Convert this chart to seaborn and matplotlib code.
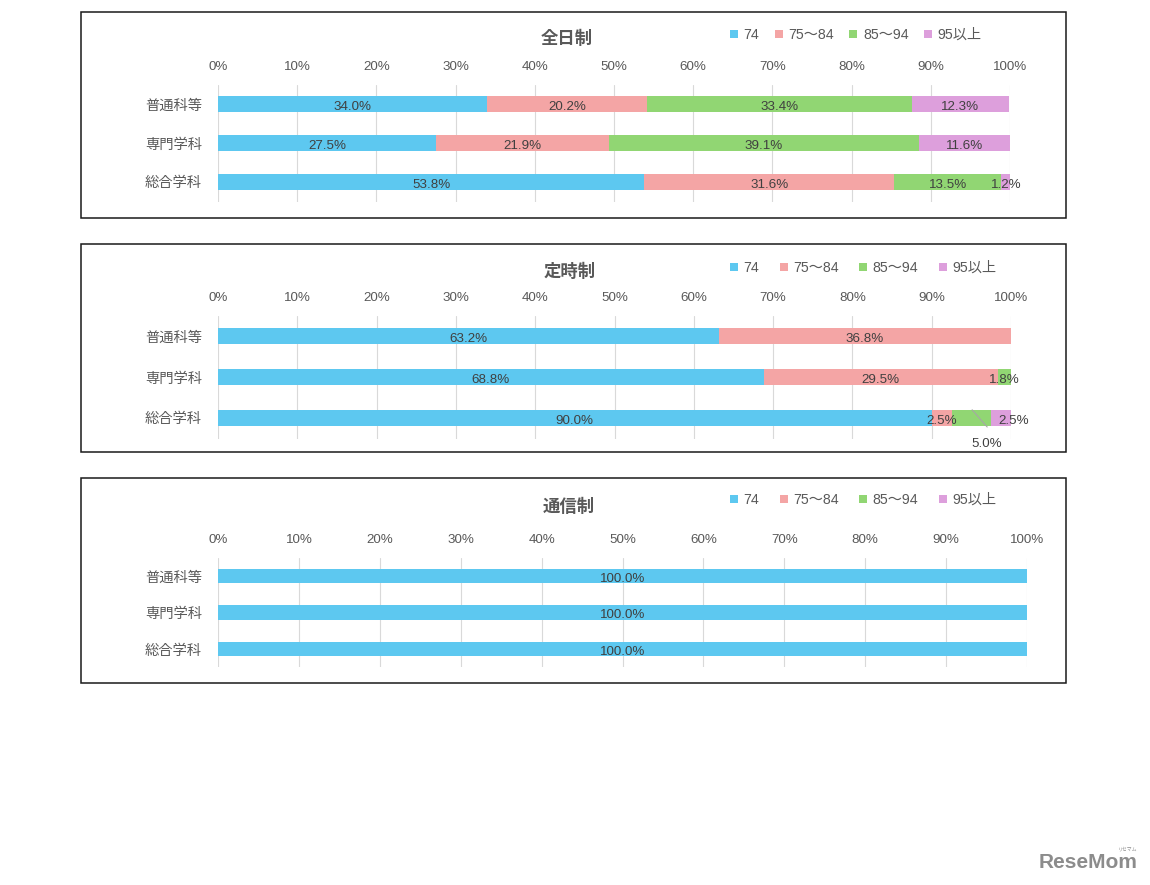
import numpy as np
import matplotlib
matplotlib.use("Agg")
import matplotlib.pyplot as plt
import seaborn as sns
from matplotlib.patches import Rectangle, Patch
from matplotlib.lines import Line2D

# ---------------- data ----------------
categories = ["普通科等", "専門学科", "総合学科"]
series_labels = ["74", "75～84", "85～94", "95以上"]
series_colors = ["#5DC8F0", "#F4A5A5", "#91D673", "#DD9FDC"]
tick_values = [0, 10, 20, 30, 40, 50, 60, 70, 80, 90, 100]
tick_labels = ["0%", "10%", "20%", "30%", "40%", "50%", "60%", "70%", "80%", "90%", "100%"]
panel_titles = ["全日制", "定時制", "通信制"]

# rows: 普通科等, 専門学科, 総合学科 / columns: 74, 75～84, 85～94, 95以上
zennichi_values = [[34.0, 20.2, 33.4, 12.3],
                   [27.5, 21.9, 39.1, 11.6],
                   [53.8, 31.6, 13.5, 1.2]]
teiji_values = [[63.2, 36.8, 0.0, 0.0],
                [68.8, 29.5, 1.8, 0.0],
                [90.0, 2.5, 5.0, 2.5]]
tsushin_values = [[100.0, 0.0, 0.0, 0.0],
                  [100.0, 0.0, 0.0, 0.0],
                  [100.0, 0.0, 0.0, 0.0]]

# ---------------- style ----------------
sns.set_theme(style="white")
plt.rcParams["font.family"] = ["Liberation Sans", "Noto Sans CJK JP", "DejaVu Sans"]

W, H = 1150, 885
fig = plt.figure(figsize=(W / 100, H / 100), dpi=100)
fig.patch.set_facecolor("white")


def fx(px):
    return px / W


def fy(py):
    return 1 - py / H


GRAY = "#595959"
LABEL = "#404040"

panels = [
    dict(values=zennichi_values, title=panel_titles[0], box=(81, 12, 1066, 218),
         ax_x=(218, 1010), ax_y=(84.5, 201.5), bar_w=0.39, title_xy=(567, 38),
         legend_y=35, colspace=1.1),
    dict(values=teiji_values, title=panel_titles[1], box=(81, 244, 1066, 452),
         ax_x=(218, 1011), ax_y=(315.5, 438.5), bar_w=0.39, title_xy=(570, 271),
         legend_y=268, colspace=1.45),
    dict(values=tsushin_values, title=panel_titles[2], box=(81, 478, 1066, 683),
         ax_x=(218, 1027), ax_y=(557.75, 667.25), bar_w=0.41, title_xy=(569, 506),
         legend_y=500, colspace=1.45),
]

for p_i, p in enumerate(panels):
    x0, y0, x1, y1 = p["box"]
    fig.add_artist(Rectangle((fx(x0), fy(y1)), fx(x1) - fx(x0), fy(y0) - fy(y1),
                             transform=fig.transFigure, fill=False,
                             edgecolor="#1a1a1a", linewidth=1.1, zorder=0))

    ax_l, ax_r = p["ax_x"]
    ax_t, ax_b = p["ax_y"]
    ax = fig.add_axes([fx(ax_l), fy(ax_b), fx(ax_r) - fx(ax_l), fy(ax_t) - fy(ax_b)])
    ax.set_facecolor("none")

    vals = np.array(p["values"], dtype=float)
    cum = np.cumsum(vals, axis=1)
    for k in range(len(series_labels) - 1, -1, -1):
        sns.barplot(x=cum[:, k], y=categories, orient="h", color=series_colors[k],
                    saturation=1, width=p["bar_w"], ax=ax, errorbar=None,
                    linewidth=0)

    ax.set_xlim(0, 100)
    ax.set_ylim(2.5, -0.5)
    ax.xaxis.tick_top()
    ax.set_xticks(tick_values)
    ax.set_xticklabels(tick_labels)
    ax.tick_params(axis="x", length=0, pad=8.5, labelsize=9.6, labelcolor=GRAY)
    ax.tick_params(axis="y", length=0, pad=11.5, labelsize=10.3, labelcolor=GRAY)
    ax.grid(axis="x", color="#D9D9D9", linewidth=0.8)
    ax.grid(axis="y", visible=False)
    ax.set_axisbelow(True)
    for s in ax.spines.values():
        s.set_visible(False)
    ax.set_xlabel("")
    ax.set_ylabel("")

    # data labels
    for i in range(len(categories)):
        for k in range(len(series_labels)):
            v = vals[i, k]
            if v <= 0:
                continue
            cx = cum[i, k] - v / 2
            cy = i + 0.03
            if p_i == 1 and i == 2 and k == 2:
                # label placed below with a leader line
                ax.add_line(Line2D([95.1, 97.0], [1.8, 2.22], color="#A6A6A6",
                                   linewidth=0.8, clip_on=False))
                ax.text(97.0, 2.6, f"{v:.1f}%", ha="center", va="center_baseline",
                        fontsize=9.6, color=LABEL, clip_on=False)
                continue
            if p_i == 1 and i == 2 and k == 3:
                cx = cx + 1.6
            ax.text(cx, cy, f"{v:.1f}%", ha="center", va="center_baseline",
                    fontsize=9.6, color=LABEL, clip_on=False)

    # title
    fig.text(fx(p["title_xy"][0]), fy(p["title_xy"][1]), p["title"], ha="center",
             va="center", fontsize=12.5, fontweight="bold", color=GRAY)

    # legend
    handles = [Patch(facecolor=c, edgecolor="none") for c in series_colors]
    fig.legend(handles, series_labels, loc="center left",
               bbox_to_anchor=(fx(730), fy(p["legend_y"])), ncol=4, frameon=False,
               fontsize=10.2, handlelength=0.55, handleheight=0.55,
               handletextpad=0.4, columnspacing=p["colspace"], borderpad=0,
               borderaxespad=0, labelcolor=GRAY)

# logo
fig.text(fx(1138), fy(862), "ReseMom", ha="right", va="center", fontsize=15,
         fontweight="bold", color="#8C8C8C")
fig.text(fx(1128), fy(849), "リセマム", ha="center", va="center", fontsize=3.5,
         color="#8C8C8C")

fig.savefig("out.png", dpi=100, facecolor="white")
